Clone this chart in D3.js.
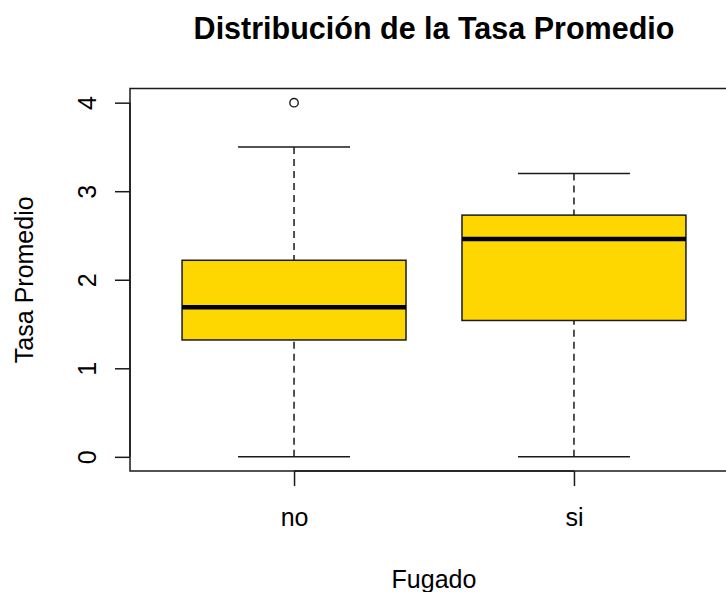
<!DOCTYPE html>
<html>
<head>
<meta charset="utf-8">
<script src="https://cdn.jsdelivr.net/npm/d3@7"></script>
<style>
  html, body { margin: 0; padding: 0; background: #fff; overflow: hidden; }
  text { font-family: "Liberation Sans", Arial, sans-serif; fill: #000; }
</style>
</head>
<body>
<svg id="chart" width="726" height="592"></svg>
<script>
// ---- data ----
const categories = ["no", "si"];
const whiskerLow = [0, 0];
const q1 = [1.32, 1.54];
const medians = [1.69, 2.46];
const q3 = [2.22, 2.73];
const whiskerHigh = [3.5, 3.2];
const outliers = [[4.0], []];
const yTicks = [0, 1, 2, 3, 4];
const title = "Distribución de la Tasa Promedio";
const xTitle = "Fugado";
const yTitle = "Tasa Promedio";

// ---- layout ----
const W = 726, H = 592;
const plot = { left: 130, right: 738, top: 88.5, bottom: 471 };
const svg = d3.select("#chart");

const x = d3.scaleLinear().domain([0.414, 2.586]).range([plot.left, plot.right]);
const y = d3.scaleLinear().domain([-0.16, 4.16]).range([plot.bottom, plot.top]);

const boxW = 0.8, capW = 0.4;
const stroke = "#1a1a1a";
const data = categories.map((c, i) => ({
  c, i: i + 1, lo: whiskerLow[i], q1: q1[i], med: medians[i], q3: q3[i], hi: whiskerHigh[i], out: outliers[i]
}));

const g = svg.append("g");

// whiskers (dashed)
g.selectAll(".wl").data(data).enter().append("line")
  .attr("x1", d => x(d.i)).attr("x2", d => x(d.i))
  .attr("y1", d => y(d.lo)).attr("y2", d => y(d.q1))
  .attr("stroke", stroke).attr("stroke-width", 1.5).attr("stroke-dasharray", "7,5");
g.selectAll(".wh").data(data).enter().append("line")
  .attr("x1", d => x(d.i)).attr("x2", d => x(d.i))
  .attr("y1", d => y(d.hi)).attr("y2", d => y(d.q3))
  .attr("stroke", stroke).attr("stroke-width", 1.5).attr("stroke-dasharray", "7,5");
// caps
["lo", "hi"].forEach(k => {
  g.selectAll(".cap" + k).data(data).enter().append("line")
    .attr("x1", d => x(d.i - capW / 2)).attr("x2", d => x(d.i + capW / 2))
    .attr("y1", d => y(d[k])).attr("y2", d => y(d[k]))
    .attr("stroke", stroke).attr("stroke-width", 1.5);
});
// boxes
g.selectAll(".box").data(data).enter().append("rect")
  .attr("x", d => x(d.i - boxW / 2)).attr("width", d => x(d.i + boxW / 2) - x(d.i - boxW / 2))
  .attr("y", d => y(d.q3)).attr("height", d => y(d.q1) - y(d.q3))
  .attr("fill", "#FFD700").attr("stroke", stroke).attr("stroke-width", 1.5);
// medians
g.selectAll(".med").data(data).enter().append("line")
  .attr("x1", d => x(d.i - boxW / 2)).attr("x2", d => x(d.i + boxW / 2))
  .attr("y1", d => y(d.med)).attr("y2", d => y(d.med))
  .attr("stroke", "#000").attr("stroke-width", 4.5);
// outliers
data.forEach(d => {
  g.selectAll(null).data(d.out).enter().append("circle")
    .attr("cx", x(d.i)).attr("cy", v => y(v)).attr("r", 4.2)
    .attr("fill", "none").attr("stroke", stroke).attr("stroke-width", 1.4);
});

// frame
svg.append("rect")
  .attr("x", plot.left).attr("y", plot.top)
  .attr("width", plot.right - plot.left).attr("height", plot.bottom - plot.top)
  .attr("fill", "none").attr("stroke", stroke).attr("stroke-width", 1.5);

// y axis
const yAxis = svg.append("g").attr("transform", `translate(${plot.left},0)`)
  .call(d3.axisLeft(y).tickValues(yTicks).tickSize(15).tickFormat(d3.format("d")));
yAxis.select(".domain").attr("stroke", stroke).attr("stroke-width", 1.5)
  .attr("d", `M0,${y(0)}V${y(4)}`);
yAxis.selectAll(".tick line").attr("stroke", stroke).attr("stroke-width", 1.5);
yAxis.selectAll(".tick text")
  .attr("x", null).attr("dy", null)
  .attr("transform", "translate(-34,0) rotate(-90)")
  .attr("text-anchor", "middle")
  .style("font-size", "25px").style("font-family", "Liberation Sans, Arial, sans-serif").attr("fill", "#000");

// x axis
const xAxis = svg.append("g").attr("transform", `translate(0,${plot.bottom})`)
  .call(d3.axisBottom(x).tickValues([1, 2]).tickSize(15).tickFormat(d => categories[d - 1]));
xAxis.select(".domain").attr("stroke", stroke).attr("stroke-width", 1.5)
  .attr("d", `M${x(1)},0H${x(2)}`);
xAxis.selectAll(".tick line").attr("stroke", stroke).attr("stroke-width", 1.5);
xAxis.selectAll(".tick text")
  .attr("y", 55).attr("dy", null)
  .style("font-size", "25px").style("font-family", "Liberation Sans, Arial, sans-serif").attr("fill", "#000");

// titles
const cx = (plot.left + plot.right) / 2;
svg.append("text").attr("x", cx).attr("y", 39).attr("text-anchor", "middle")
  .style("font-size", "30.5px").style("font-weight", "bold").text(title);
svg.append("text").attr("x", cx).attr("y", 588).attr("text-anchor", "middle")
  .style("font-size", "25px").text(xTitle);
svg.append("text").attr("transform", `translate(33,${(plot.top + plot.bottom) / 2}) rotate(-90)`)
  .attr("text-anchor", "middle").style("font-size", "25px").text(yTitle);
</script>
</body>
</html>
